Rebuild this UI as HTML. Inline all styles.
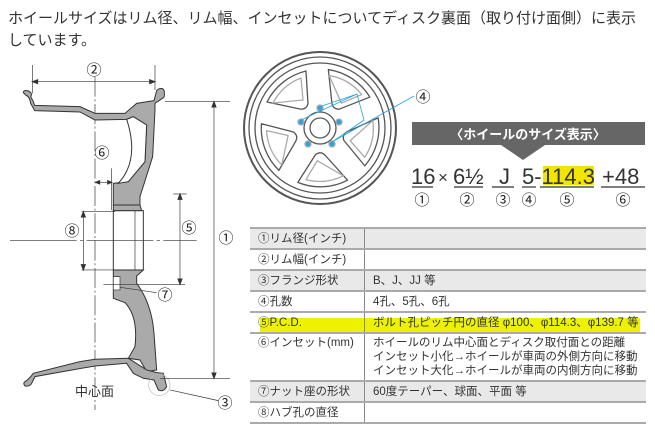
<!DOCTYPE html>
<html><head><meta charset="utf-8"><style>
body{margin:0;width:655px;height:438px;background:#fff;overflow:hidden;font-family:"Liberation Sans","Noto Sans CJK JP",sans-serif;color:#333}
.t{position:absolute;left:8px;font-size:15px;line-height:22px;color:#333;white-space:nowrap}
table{position:absolute;left:250px;top:227px;width:396px;border-collapse:collapse;font-size:11.5px;color:#333;table-layout:fixed}
td{height:19px;border-bottom:2px solid #aaa;padding:0 0 0 8px;vertical-align:middle;line-height:14px;white-space:nowrap;overflow:hidden}
td.a{width:106px;border-right:1.5px solid #888}
tr.g td{background:#e9e9e9}
table{border-top:2px solid #aaa}
</style></head><body>
<div class="t" style="top:8px">ホイールサイズはリム径、リム幅、インセットについてディスク裏面（取り付け面側）に表示</div>
<div class="t" style="top:30px">しています。</div>

<svg width="655" height="438" style="position:absolute;left:0;top:0" font-family="Liberation Sans, Noto Sans CJK JP, sans-serif">
<g transform="translate(0,50) scale(0.3333)" stroke="#333" stroke-width="3">
 <line x1="97" y1="45" x2="97" y2="130" stroke-width="2"/>
 <line x1="465" y1="45" x2="465" y2="120" stroke-width="2"/>
 <line x1="97" y1="95" x2="465" y2="95" stroke-width="2"/>
 <path d="M97 95 l16 -6 v12z M465 95 l-16 -6 v12z" fill="#333"/>
 <line x1="285" y1="80" x2="285" y2="1080" stroke-width="2" stroke-dasharray="60 8 6 8"/>
 <path d="M70 128 q0 -8 12 -6 q14 4 12 14 q-4 6 4 14 l6 16 L240 170 L285 190 L375 190 L410 160 L462 152 L470 122 q6 -8 18 -6 q8 6 4 26 L465 160 L465 180 L458 320 L420 440 L420 465 L340 465 L340 400 L385 395 L435 335 L440 225 L400 200 L380 208 L285 210 L240 186 L104 182 L92 160 Q88 138 78 136 Z" fill="#aaa"/>
 <path d="M380 208 L400 200 L440 225 L435 335 L385 395 L355 400 Q420 330 380 208Z" fill="#fff"/>
 <rect x="340" y="482" width="90" height="178" fill="#fff"/>
 <line x1="405" y1="482" x2="405" y2="660" stroke-width="2"/>
 <path d="M340 465 L420 465 L425 482 L340 482Z" fill="#aaa"/>
 <path d="M340 660 L430 660 L410 678 L410 700 Q455 760 462 850 L470 960 L440 965 L420 930 L385 925 L405 890 Q415 800 375 758 L340 745Z" fill="#aaa"/>
 <path d="M340 680 L360 680 L360 720 L340 720Z" fill="#fff" stroke-width="2"/>
 <path d="M385 925 L440 960 L470 968 L490 970 L500 1010 Q490 1028 475 1020 L462 990 L430 985 L400 970 L380 940 L285 948 L245 955 L105 980 L95 1000 Q90 1010 75 1008 Q66 998 80 992 L92 980 L100 970 L240 935 L285 928 Z" fill="#aaa"/>
 <circle cx="478" cy="1005" r="32" fill="none" stroke="#bbb" stroke-width="2"/>
 <line x1="510" y1="1020" x2="655" y2="1052" stroke-width="2"/>
 <line x1="495" y1="155" x2="690" y2="155" stroke-width="2"/>
 <line x1="480" y1="985" x2="690" y2="985" stroke-width="2"/>
 <line x1="642" y1="155" x2="642" y2="985" stroke-width="2"/>
 <path d="M642 155 l-6 16 h12z M642 985 l-6 -16 h12z" fill="#333"/>
 <line x1="335" y1="355" x2="335" y2="480" stroke-width="2"/>
 <line x1="287" y1="397" x2="335" y2="397" stroke-width="2"/>
 <path d="M287 397 l12 -5 v10z M335 397 l-12 -5 v10z" fill="#333"/>
 <line x1="245" y1="485" x2="345" y2="485" stroke-width="2"/>
 <line x1="245" y1="660" x2="345" y2="660" stroke-width="2"/>
 <line x1="250" y1="485" x2="250" y2="660" stroke-width="2"/>
 <path d="M250 485 l-6 16 h12z M250 660 l-6 -16 h12z" fill="#333"/>
 <line x1="30" y1="571" x2="590" y2="571" stroke-width="2" stroke-dasharray="200 10 10 10"/>
 <line x1="520" y1="432" x2="560" y2="432" stroke-width="2"/>
 <line x1="310" y1="703" x2="555" y2="703" stroke-width="2"/>
 <line x1="540" y1="432" x2="540" y2="703" stroke-width="2"/>
 <path d="M540 432 l-6 16 h12z M540 703 l-6 -16 h12z" fill="#333"/>
 <line x1="360" y1="712" x2="470" y2="728" stroke-width="2"/>
</g>
<g font-size="15" fill="#222" text-anchor="middle">
 <text x="94" y="75">②</text><text x="102" y="158">⑥</text>
 <text x="72" y="236">⑧</text><text x="189" y="233">⑤</text>
 <text x="226" y="243">①</text><text x="165" y="300">⑦</text>
 <text x="225" y="408">③</text><text x="423" y="102">④</text>
</g>
<text x="75" y="396" font-size="13" fill="#333">中心面</text>

<g transform="translate(320,128)" fill="none" stroke="#555" stroke-width="1.3" stroke-linejoin="round">
 <circle r="76" stroke-width="2"/><circle r="71"/><circle r="65"/>
 <g id="w"><path d="M-53 -26 A59 59 0 0 1 -14 -57 L-12 -24 Q-14 -18 -20 -19 Z"/><path d="M-47 -25 A53 53 0 0 1 -19 -50 L-17 -28 Z" stroke="#aaa"/></g>
 <use href="#w" transform="rotate(72)"/><use href="#w" transform="rotate(144)"/><use href="#w" transform="rotate(216)"/><use href="#w" transform="rotate(288)"/>
 <circle r="16"/><circle r="10"/>
 <g fill="#29a3e0" stroke="#aaa"><circle cx="0" cy="-20" r="3"/><circle cx="19" cy="-6" r="3"/><circle cx="12" cy="16" r="3"/><circle cx="-12" cy="16" r="3"/><circle cx="-19" cy="-6" r="3"/></g>
 <path d="M2 -22 L37 -34 L44 -8 L12 14" stroke="#29a3e0" stroke-width="0.8"/>
 <path d="M-19 -8 L37 -34 M12 14 L94 -32" stroke="#29a3e0" stroke-width="0.8"/>
</g>
<path d="M412 122 H645 V145 H545 L523 160 L501 145 H412Z" fill="#666"/>
<text x="528" y="139" font-size="13" font-weight="bold" fill="#fff" text-anchor="middle">〈ホイールのサイズ表示〉</text>
<rect x="543" y="166" width="51" height="19" fill="#f2e600"/>
<g font-size="22" fill="#333">
 <text x="411" y="184">16</text><text x="438" y="183" font-size="17">×</text><text x="453" y="184">6½</text>
 <text x="499" y="184">J</text><text x="522" y="184">5-114.3</text><text x="602" y="184">+48</text>
</g>
<g stroke="#333" stroke-width="1.2"><line x1="412" y1="187" x2="433" y2="187"/><line x1="454" y1="187" x2="483" y2="187"/><line x1="492" y1="187" x2="514" y2="187"/><line x1="522" y1="187" x2="536" y2="187"/><line x1="540" y1="187" x2="594" y2="187"/><line x1="601" y1="187" x2="645" y2="187"/></g>
<g font-size="15" fill="#222" text-anchor="middle"><text x="422" y="205">①</text><text x="467" y="205">②</text><text x="503" y="205">③</text><text x="529" y="205">④</text><text x="567" y="205">⑤</text><text x="623" y="205">⑥</text></g>
</svg>
<div style="position:absolute;left:260px;top:318px;width:380px;height:15px;background:#eef200;z-index:0"></div>
<table>
<tr class="g"><td class="a">①リム径(インチ)</td><td></td></tr>
<tr><td class="a">②リム幅(インチ)</td><td></td></tr>
<tr class="g"><td class="a">③フランジ形状</td><td>B、J、JJ 等</td></tr>
<tr><td class="a">④孔数</td><td>4孔、5孔、6孔</td></tr>
<tr><td class="a">⑤P.C.D.</td><td>ボルト孔ピッチ円の直径 φ100、φ114.3、φ139.7 等</td></tr>
<tr><td class="a" style="height:44px;vertical-align:top;padding-top:2px">⑥インセット(mm)</td><td style="vertical-align:top;padding-top:2px">ホイールのリム中心面とディスク取付面との距離<br>インセット小化→ホイールが車両の外側方向に移動<br>インセット大化→ホイールが車両の内側方向に移動</td></tr>
<tr class="g"><td class="a">⑦ナット座の形状</td><td>60度テーパー、球面、平面 等</td></tr>
<tr><td class="a">⑧ハブ孔の直径</td><td></td></tr>
</table>
</body></html>
